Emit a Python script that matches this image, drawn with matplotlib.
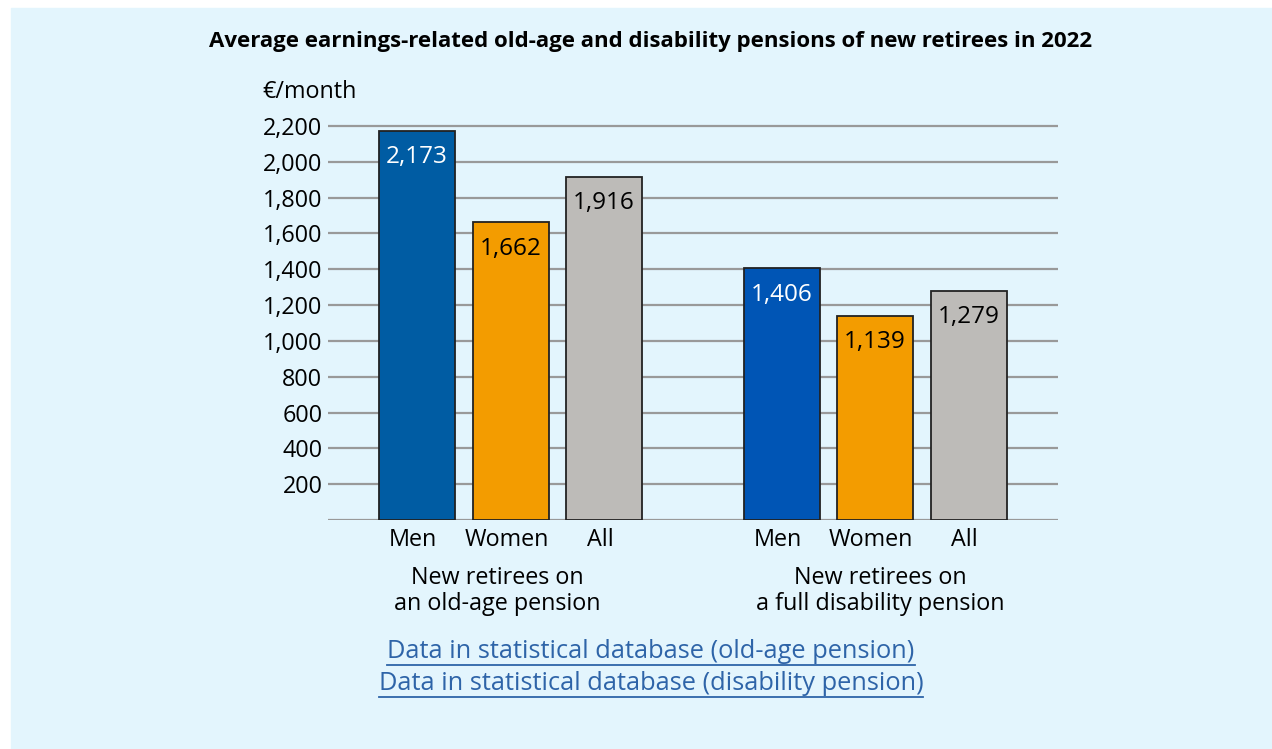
import matplotlib
matplotlib.use("Agg")
import matplotlib.pyplot as plt
from matplotlib.patches import Rectangle
from matplotlib.lines import Line2D

# ---- data ----
categories = ["Men", "Women", "All"]
old_age_values = [2173, 1662, 1916]
disability_values = [1406, 1139, 1279]
group_labels = ["New retirees on\nan old-age pension", "New retirees on\na full disability pension"]
yticks = [200, 400, 600, 800, 1000, 1200, 1400, 1600, 1800, 2000, 2200]
title = "Average earnings-related old-age and disability pensions of new retirees in 2022"
ylabel = "€/month"
links = ["Data in statistical database (old-age pension)",
         "Data in statistical database (disability pension)"]

plt.rcParams['font.family'] = ['Open Sans', 'DejaVu Sans']

W, H = 1272, 749
fig = plt.figure(figsize=(W / 100, H / 100), dpi=100, facecolor="white")
bg = "#e3f5fd"
fig.patches.append(Rectangle((11 / W, 0), (W - 11) / W, (H - 8) / H,
                             transform=fig.transFigure, color=bg, zorder=-10))

ax_left, ax_right = 328, 1058
ax_bottom_px, ax_top_px = 520, 126  # y=0 and y=2200
ymax = 2300
ppu = (ax_bottom_px - ax_top_px) / 2200
top_px = ax_bottom_px - ymax * ppu
ax = fig.add_axes([ax_left / W, 1 - ax_bottom_px / H, (ax_right - ax_left) / W,
                   (ax_bottom_px - top_px) / H])
ax.set_facecolor("none")
ax.set_ylim(0, ymax)

step = 93.5
x1 = [0, 1, 2]
gap = 3.9
x2 = [gap + v for v in x1]
ax.set_xlim((ax_left - 417) / step, (ax_right - 417) / step)

men_colors = ["#005ca3", "#0055b5"]
women_color = "#f39c00"
all_color = "#bdbbb8"

for yv in [0] + yticks:
    ax.axhline(yv, color="#999999", lw=1.6, zorder=1)

fs = 16.8
width = 76 / step
group_shift = [-13 / step, 5 / step]
for i, (xs, vals) in enumerate([(x1, old_age_values), (x2, disability_values)]):
    cols = [men_colors[i], women_color, all_color]
    ax.bar(xs, vals, width=width, color=cols, edgecolor="#222222",
           linewidth=1.3, zorder=2)
    for x, v, c in zip(xs, vals, cols):
        tc = "white" if c in men_colors else "black"
        ax.annotate(f"{v:,}", (x, v), xytext=(0, -19), textcoords="offset points",
                    ha="center", va="center", fontsize=17.5, color=tc, zorder=3)
    for x, cat in zip(xs, categories):
        ax.text(x - 4 / step, -110, cat, ha="center", va="center", fontsize=fs, color="black")
    ax.text(xs[1] + group_shift[i], -395, group_labels[i], ha="center", va="center",
            fontsize=fs, color="black", linespacing=1.1)

ax.set_yticks(yticks)
ax.set_yticklabels([f"{v:,}" for v in yticks], fontsize=fs)
ax.tick_params(axis="y", length=0, pad=4)
ax.set_xticks([])
for s in ax.spines.values():
    s.set_visible(False)

fig.text(651 / W, 1 - 41 / H, title, ha="center", va="center", fontsize=16,
         fontweight="bold", color="black")
fig.text(262 / W, 1 - 92 / H, ylabel, ha="left", va="center", fontsize=fs,
         color="black")

link_color = "#2e64a8"
link_texts = []
for lt, yp in zip(links, [651, 683]):
    t = fig.text(651 / W, 1 - yp / H, lt, ha="center", va="center", fontsize=18.3,
                 color=link_color)
    link_texts.append((t, yp))

fig.canvas.draw()
r = fig.canvas.get_renderer()
for t, yp in link_texts:
    bb = t.get_window_extent(renderer=r)
    yline = 1 - (yp + 14) / H
    fig.add_artist(Line2D([bb.x0 / W, bb.x1 / W], [yline, yline], transform=fig.transFigure,
                          color=link_color, lw=1.3))

fig.savefig("out.png", dpi=100, facecolor="white")
